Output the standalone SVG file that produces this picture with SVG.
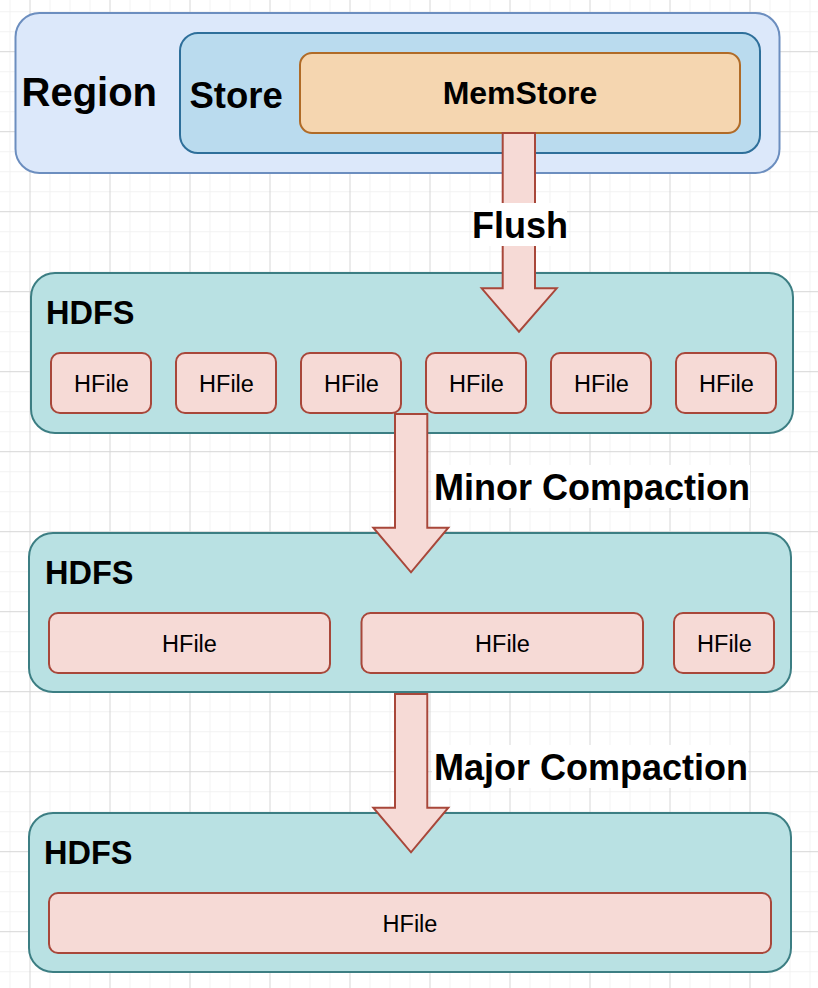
<svg xmlns="http://www.w3.org/2000/svg" width="818" height="988" viewBox="0 0 818 988">
  <defs>
    <pattern id="grid" patternUnits="userSpaceOnUse" x="29.5" y="51.2" width="80" height="80">
      <rect x="0" y="0" width="80" height="80" fill="#ffffff"/>
      <rect x="20" y="0" width="1" height="80" fill="#f2f2f2"/>
      <rect x="40" y="0" width="1" height="80" fill="#f2f2f2"/>
      <rect x="60" y="0" width="1" height="80" fill="#f2f2f2"/>
      <rect x="0" y="20" width="80" height="1" fill="#f2f2f2"/>
      <rect x="0" y="40" width="80" height="1" fill="#f2f2f2"/>
      <rect x="0" y="60" width="80" height="1" fill="#f2f2f2"/>
      <rect x="0" y="0" width="1" height="80" fill="#d6d6d6"/>
      <rect x="0" y="0" width="80" height="1" fill="#d6d6d6"/>
    </pattern>
  </defs>
  <style>
    .bold { font-family: "Liberation Sans", Arial, Helvetica, sans-serif; font-weight: bold; fill: #000000; }
    .reg { font-family: "Liberation Sans", Arial, Helvetica, sans-serif; font-size: 23.5px; fill: #000000; text-anchor: middle; }
    .hdfs { fill: #b9e1e3; stroke: #3c7e83; stroke-width: 2; }
    .hfile { fill: #f6dad6; stroke: #a8473a; stroke-width: 2; }
    .arrow { fill: #f6dad6; stroke: #a8473a; stroke-width: 2; stroke-linejoin: miter; }
    .lblbg { fill: #ffffff; }
  </style>
  <rect x="0" y="0" width="818" height="988" fill="url(#grid)"/>

  <g id="region">
    <rect x="15.5" y="13" width="764" height="160" rx="24" ry="24" fill="#dce8fa" stroke="#6c8ebf" stroke-width="2"/>
    <text x="21.5" y="106" class="bold" font-size="40">Region</text>
  </g>
  <g id="store">
    <rect x="180" y="33" width="580" height="120" rx="18" ry="18" fill="#badbee" stroke="#2e6f9a" stroke-width="2"/>
    <text x="189.5" y="108" class="bold" font-size="36.5">Store</text>
  </g>
  <g id="memstore">
    <rect x="300" y="53" width="440" height="80" rx="12" ry="12" fill="#f5d6b0" stroke="#b06b27" stroke-width="2"/>
    <text x="520" y="104" class="bold" font-size="32" text-anchor="middle">MemStore</text>
  </g>

  <g id="hdfs1">
    <rect class="hdfs" x="31" y="273" width="762" height="160" rx="24" ry="24"/>
    <text x="46" y="324" class="bold" font-size="32.5">HDFS</text>
  </g>
  <g id="hdfs1-hfiles">
    <g id="h1a"><rect class="hfile" x="51" y="353" width="100" height="60" rx="9"/><text class="reg" x="101.5" y="392">HFile</text></g>
    <g id="h1b"><rect class="hfile" x="176" y="353" width="100" height="60" rx="9"/><text class="reg" x="226.5" y="392">HFile</text></g>
    <g id="h1c"><rect class="hfile" x="301" y="353" width="100" height="60" rx="9"/><text class="reg" x="351.5" y="392">HFile</text></g>
    <g id="h1d"><rect class="hfile" x="426" y="353" width="100" height="60" rx="9"/><text class="reg" x="476.5" y="392">HFile</text></g>
    <g id="h1e"><rect class="hfile" x="551" y="353" width="100" height="60" rx="9"/><text class="reg" x="601.5" y="392">HFile</text></g>
    <g id="h1f"><rect class="hfile" x="676" y="353" width="100" height="60" rx="9"/><text class="reg" x="726.5" y="392">HFile</text></g>
  </g>

  <g id="hdfs2">
    <rect class="hdfs" x="29" y="533" width="762" height="159" rx="24" ry="24"/>
    <text x="45" y="583.5" class="bold" font-size="32.5">HDFS</text>
  </g>
  <g id="hdfs2-hfiles">
    <g id="h2a"><rect class="hfile" x="49" y="613" width="281" height="60" rx="9"/><text class="reg" x="189.5" y="652">HFile</text></g>
    <g id="h2b"><rect class="hfile" x="361.5" y="613" width="281.5" height="60" rx="9"/><text class="reg" x="502.5" y="652">HFile</text></g>
    <g id="h2c"><rect class="hfile" x="674" y="613" width="100" height="60" rx="9"/><text class="reg" x="724.5" y="652">HFile</text></g>
  </g>

  <g id="hdfs3">
    <rect class="hdfs" x="29" y="813" width="762" height="159" rx="24" ry="24"/>
    <text x="44" y="863.5" class="bold" font-size="32.5">HDFS</text>
  </g>
  <g id="hdfs3-hfiles">
    <g id="h3a"><rect class="hfile" x="49" y="893" width="722" height="60" rx="9"/><text class="reg" x="410" y="932">HFile</text></g>
  </g>

  <g id="connectors">
    <g id="flush">
      <polygon class="arrow" points="502.7,133 535,133 535,288.3 556.7,288.3 519,331.7 481.7,288.3 502.7,288.3"/>
      <rect class="lblbg" x="473" y="203" width="94" height="43"/>
      <text x="520" y="237.5" class="bold" font-size="36" text-anchor="middle">Flush</text>
    </g>
    <g id="minor">
      <polygon class="arrow" points="395,414 427.3,414 427.3,527.7 448.3,527.7 411,572.3 373.3,527.7 395,527.7"/>
      <rect class="lblbg" x="432" y="465" width="318" height="43"/>
      <text x="592" y="500" class="bold" font-size="36" text-anchor="middle">Minor Compaction</text>
    </g>
    <g id="major">
      <polygon class="arrow" points="395,694 427.3,694 427.3,807.7 448.3,807.7 411,852.3 373.3,807.7 395,807.7"/>
      <rect class="lblbg" x="432" y="745" width="316" height="43"/>
      <text x="591" y="780" class="bold" font-size="36" text-anchor="middle">Major Compaction</text>
    </g>
  </g>
</svg>
